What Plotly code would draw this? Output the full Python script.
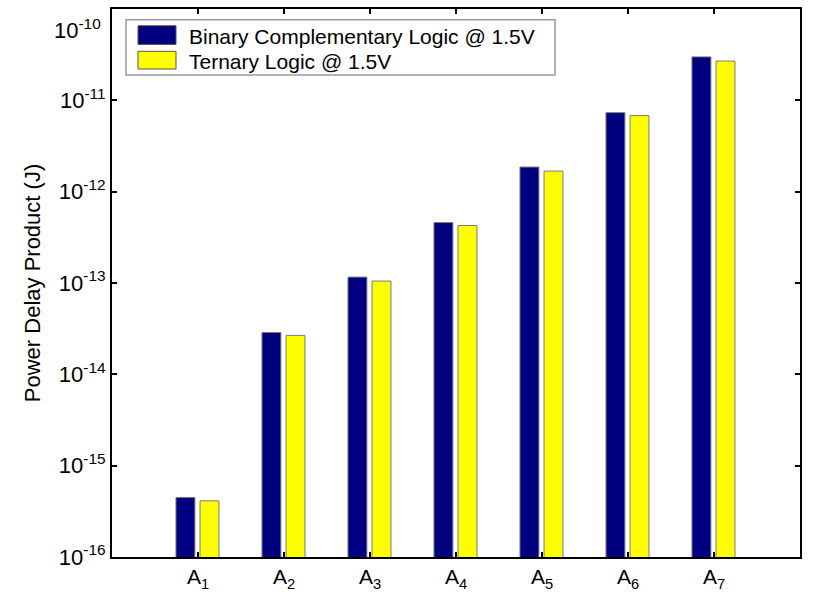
import plotly.graph_objects as go

# Power-delay product per adder stage, binary vs ternary logic at 1.5 V
stages = ["A<sub>1</sub>", "A<sub>2</sub>", "A<sub>3</sub>", "A<sub>4</sub>",
          "A<sub>5</sub>", "A<sub>6</sub>", "A<sub>7</sub>"]
binary_pdp = [4.49e-16, 2.87e-14, 1.16e-13, 4.59e-13, 1.86e-12, 7.33e-12, 2.99e-11]
ternary_pdp = [4.12e-16, 2.67e-14, 1.05e-13, 4.26e-13, 1.68e-12, 6.81e-12, 2.69e-11]
series_names = ["Binary Complementary Logic @ 1.5V", "Ternary Logic @ 1.5V"]
series_colors = ["#000080", "#FFFF00"]
ytick_exps = [-16, -15, -14, -13, -12, -11, -10]

FONT = "Liberation Sans, Arial, sans-serif"
W, H = 819, 599
L, R, T, B = 112, 19, 7, 35
pw, ph = W - L - R, H - T - B

xpos = list(range(1, len(stages) + 1))

fig = go.Figure()
for vals, color, off in [(binary_pdp, series_colors[0], -0.256),
                         (ternary_pdp, series_colors[1], 0.024)]:
    fig.add_trace(go.Bar(
        x=xpos, y=vals, width=0.22, offset=off,
        marker=dict(color=color, line=dict(color="#7a7a7a", width=1)),
        showlegend=False,
    ))


def px_x(p):
    return (p - L) / pw


def px_y(p):
    return (H - B - p) / ph


# boxed key in the upper-left corner
shapes = [dict(type="rect", xref="paper", yref="paper",
               x0=px_x(126), x1=px_x(555), y0=px_y(74), y1=px_y(18),
               line=dict(color="#9a9a9a", width=1.5), fillcolor="white", layer="above")]
annotations = []
for i, (name, color) in enumerate(zip(series_names, series_colors)):
    y0, y1 = (24, 43) if i == 0 else (50, 68)
    shapes.append(dict(type="rect", xref="paper", yref="paper",
                       x0=px_x(138), x1=px_x(176), y0=px_y(y1), y1=px_y(y0),
                       line=dict(color="#555555", width=1), fillcolor=color, layer="above"))
    annotations.append(dict(xref="paper", yref="paper", x=px_x(187), y=px_y((y0 + y1) / 2 + 1),
                            text=name, showarrow=False, xanchor="left", yanchor="middle",
                            font=dict(family=FONT, size=21, color="black")))

# the top decade label sits just below the frame edge so it stays on the page
ticktext = [f"10<sup>{e}</sup>" for e in ytick_exps]
ticktext[-1] = ""
annotations.append(dict(xref="paper", yref="paper", x=px_x(103), y=px_y(27),
                        text=f"10<sup>{ytick_exps[-1]}</sup>", showarrow=False,
                        xanchor="right", yanchor="middle",
                        font=dict(family=FONT, size=22, color="black")))

fig.update_layout(
    width=W, height=H,
    margin=dict(l=L, r=R, t=T, b=B),
    plot_bgcolor="white", paper_bgcolor="white",
    barmode="overlay",
    shapes=shapes, annotations=annotations,
    xaxis=dict(range=[0, 8], tickvals=xpos, ticktext=stages,
               ticks="inside", ticklen=5, tickwidth=2, tickcolor="black",
               showline=True, linecolor="black", linewidth=2, mirror="ticks",
               showgrid=False, zeroline=False,
               tickfont=dict(family=FONT, size=21, color="black")),
    yaxis=dict(type="log", range=[-16, -10],
               tickvals=[10.0 ** e for e in ytick_exps],
               ticktext=ticktext,
               ticks="inside", ticklen=5, tickwidth=2, tickcolor="black",
               showline=True, linecolor="black", linewidth=2, mirror="ticks",
               showgrid=False, zeroline=False, ticklabeloverflow="allow",
               tickfont=dict(family=FONT, size=22, color="black"),
               title=dict(text="Power Delay Product (J)", standoff=12,
                          font=dict(family=FONT, size=22, color="black"))),
)

fig.write_html("out.html")
